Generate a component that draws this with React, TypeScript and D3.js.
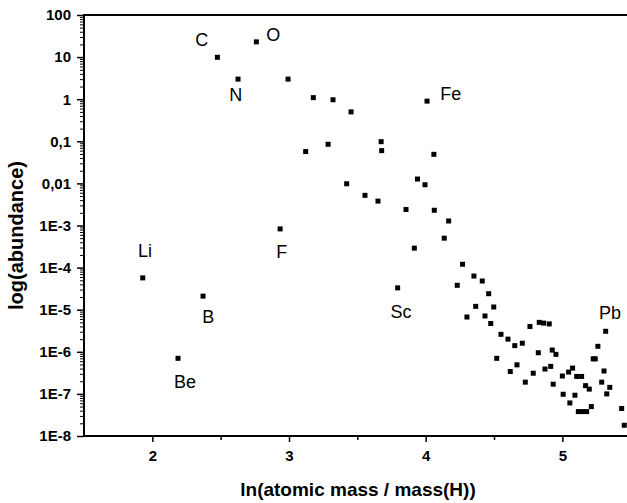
import React, { useEffect, useRef } from "react";
import * as d3 from "d3";

// ln(atomic mass / mass(H)) for every element in the plot
const lnMass = [
  1.93, 2.188, 2.371, 2.476, 2.627, 2.761, 2.935, 2.993, 3.122, 3.178, 3.286, 3.322, 3.422, 3.454,
  3.556, 3.651, 3.674, 3.678, 3.795, 3.856, 3.917, 3.94, 3.995, 4.01, 4.06, 4.063, 4.136, 4.168,
  4.231, 4.27, 4.302, 4.353, 4.366, 4.414, 4.434, 4.461, 4.476, 4.498, 4.52, 4.551, 4.602, 4.619,
  4.652, 4.668, 4.707, 4.729, 4.763, 4.787, 4.824, 4.831, 4.863, 4.873, 4.904, 4.915, 4.926, 4.933,
  4.953, 5.0, 5.006, 5.046, 5.055, 5.075, 5.092, 5.105, 5.117, 5.141, 5.149, 5.17, 5.178, 5.197,
  5.212, 5.226, 5.241, 5.26, 5.288, 5.305, 5.317, 5.325, 5.347, 5.434, 5.453,
];

// relative abundance
const abundance = [
  5.7e-5, 7e-7, 2.1e-5, 9.9, 3.0, 23, 8.3e-4, 3.0, 0.057, 1.09, 0.085, 0.97, 0.0098, 0.5,
  0.0052, 0.0038, 0.098, 0.06, 3.3e-5, 0.0024, 2.9e-4, 0.0127, 0.0093, 0.9, 0.049, 0.0023, 5e-4, 1.28e-3,
  3.8e-5, 1.2e-4, 6.7e-6, 6.3e-5, 1.2e-5, 4.8e-5, 7.1e-6, 2.4e-5, 4.7e-6, 1.16e-5, 7e-7, 2.6e-6, 2e-6, 3.4e-7,
  1.4e-6, 4.9e-7, 1.6e-6, 1.9e-7, 4e-6, 3.1e-7, 9.5e-7, 5e-6, 4.8e-6, 3.9e-7, 4.6e-6, 4.5e-7, 1.1e-6, 1.7e-7,
  8.7e-7, 2.66e-7, 9.8e-8, 3.3e-7, 6.1e-8, 4.1e-7, 9.3e-8, 2.6e-7, 3.8e-8, 2.6e-7, 3.8e-8, 1.57e-7, 3.8e-8, 1.3e-7,
  5e-8, 6.8e-7, 6.8e-7, 1.35e-6, 1.9e-7, 3.5e-7, 3.07e-6, 1.0e-7, 1.43e-7, 4.5e-8, 1.8e-8,
];

// element labels, placed in data coordinates
const labelText = ["C", "O", "N", "Fe", "Li", "F", "B", "Be", "Sc", "Pb"];
const labelX = [2.361, 2.885, 2.61, 4.183, 1.947, 2.947, 2.41, 2.239, 3.82, 5.348];
const labelY = [25.5, 33.5, 1.26, 1.38, 2.5e-4, 2.4e-4, 6.8e-6, 1.95e-7, 9e-6, 8.5e-6];

// axis ticks
const xTicks = [2, 3, 4, 5];
const xMinorTicks = [2.5, 3.5, 4.5];
const yTicks = [100, 10, 1, 0.1, 0.01, 1e-3, 1e-4, 1e-5, 1e-6, 1e-7, 1e-8];
const yTickLabels = ["100", "10", "1", "0,1", "0,01", "1E-3", "1E-4", "1E-5", "1E-6", "1E-7", "1E-8"];

const W = 627;
const H = 503;
const font = "'Liberation Sans', Arial, sans-serif";

export default function App() {
  const ref = useRef<SVGSVGElement>(null);

  useEffect(() => {
    const svg = d3.select(ref.current);
    svg.selectAll("*").remove();

    // plot box
    const left = 84,
      top = 15,
      bottom = 436;

    const x = d3.scaleLinear().domain([1.5, 5.5]).range([left, left + 4 * 136.67]);
    const y = d3.scaleLog().domain([1e-8, 100]).range([bottom, top]);

    // minor log ticks 2..9 in every decade
    const yMinor: number[] = [];
    yTicks.slice(1).forEach((d) => {
      for (let k = 2; k <= 9; k++) yMinor.push(d * k);
    });

    // y axis
    const yAxis = svg
      .append("g")
      .attr("transform", `translate(${left},0)`)
      .call(
        d3
          .axisLeft(y)
          .tickValues(yTicks)
          .tickSize(7)
          .tickPadding(6)
          .tickFormat((d, i) => yTickLabels[i])
      );
    yAxis.select(".domain").remove();
    yAxis.selectAll("line").attr("stroke", "#000").attr("stroke-width", 1.5);
    yAxis
      .selectAll("text")
      .attr("font-family", font)
      .attr("font-weight", "bold")
      .attr("font-size", 15)
      .attr("fill", "#000");

    const yMinorAxis = svg
      .append("g")
      .attr("transform", `translate(${left},0)`)
      .call(d3.axisLeft(y).tickValues(yMinor).tickSize(4).tickFormat(() => ""));
    yMinorAxis.select(".domain").remove();
    yMinorAxis.selectAll("line").attr("stroke", "#000").attr("stroke-width", 1);

    // x axis
    const xAxis = svg
      .append("g")
      .attr("transform", `translate(0,${bottom})`)
      .call(d3.axisBottom(x).tickValues(xTicks).tickSize(6).tickPadding(8).tickFormat(d3.format("d")));
    xAxis.select(".domain").remove();
    xAxis.selectAll("line").attr("stroke", "#000").attr("stroke-width", 1.5);
    xAxis
      .selectAll("text")
      .attr("font-family", font)
      .attr("font-weight", "bold")
      .attr("font-size", 15)
      .attr("fill", "#000");

    const xMinorAxis = svg
      .append("g")
      .attr("transform", `translate(0,${bottom})`)
      .call(d3.axisBottom(x).tickValues(xMinorTicks).tickSize(4).tickFormat(() => ""));
    xMinorAxis.select(".domain").remove();
    xMinorAxis.selectAll("line").attr("stroke", "#000").attr("stroke-width", 1.5);

    // frame lines (left, bottom, top)
    svg
      .append("path")
      .attr("d", `M${W + 5},${top}H${left}V${bottom}H${W + 5}`)
      .attr("fill", "none")
      .attr("stroke", "#000")
      .attr("stroke-width", 2);

    // points
    const size = 5;
    svg
      .append("g")
      .selectAll("rect")
      .data(lnMass)
      .join("rect")
      .attr("x", (d) => x(d) - size / 2)
      .attr("y", (d, i) => y(abundance[i]) - size / 2)
      .attr("width", size)
      .attr("height", size)
      .attr("fill", "#000");

    // element labels
    svg
      .append("g")
      .selectAll("text")
      .data(labelText)
      .join("text")
      .attr("x", (d, i) => x(labelX[i]))
      .attr("y", (d, i) => y(labelY[i]))
      .attr("dy", "0.36em")
      .attr("text-anchor", "middle")
      .attr("font-family", font)
      .attr("font-size", 18)
      .text((d) => d);

    // axis titles
    svg
      .append("text")
      .attr("x", 358)
      .attr("y", 496)
      .attr("text-anchor", "middle")
      .attr("font-family", font)
      .attr("font-weight", "bold")
      .attr("font-size", 19)
      .text("ln(atomic mass / mass(H))");

    svg
      .append("text")
      .attr("transform", `translate(23,${(top + bottom) / 2 + 10}) rotate(-90)`)
      .attr("text-anchor", "middle")
      .attr("font-family", font)
      .attr("font-weight", "bold")
      .attr("font-size", 20)
      .text("log(abundance)");
  }, []);

  return (
    <svg
      ref={ref}
      width={W}
      height={H}
      style={{ position: "absolute", left: 0, top: 0, background: "#fff" }}
    />
  );
}
